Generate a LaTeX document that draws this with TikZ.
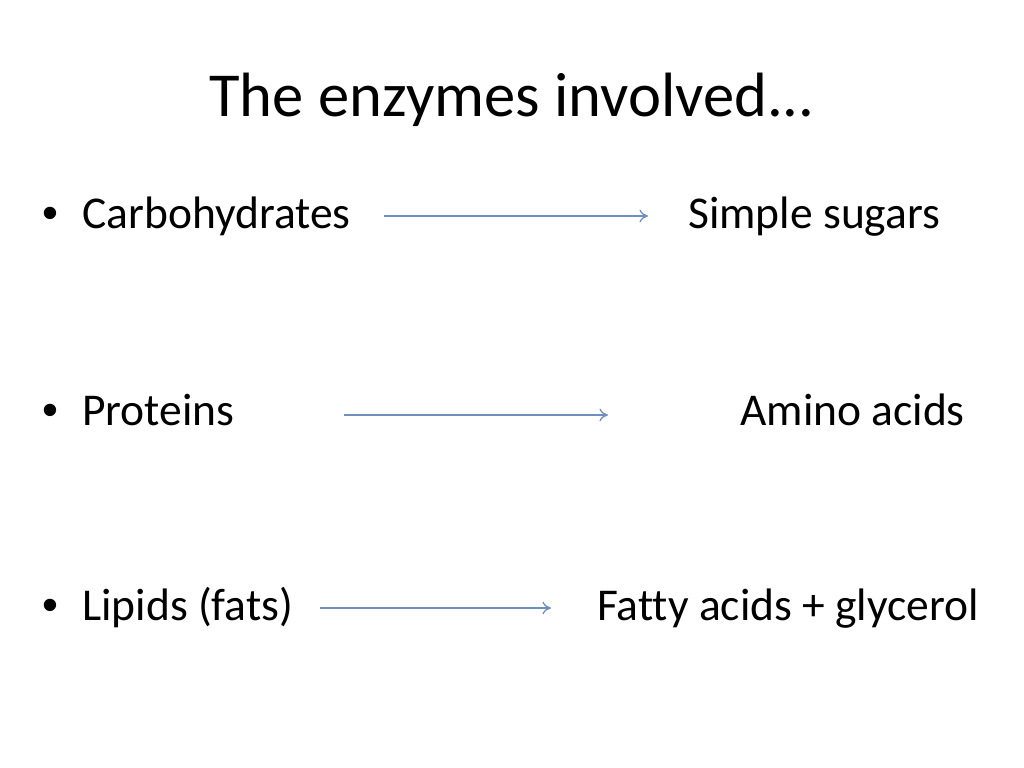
\documentclass[tikz,border=0pt]{standalone}
\usepackage{fontspec}
\setmainfont{Carlito}[Ligatures=NoCommon]
\newfontfamily\bulletfont{Liberation Sans}
\usetikzlibrary{arrows.meta}
\definecolor{arrowblue}{HTML}{6F8FBF}
\begin{document}
\begin{tikzpicture}[x=0.703125pt,y=-0.703125pt,
  title/.style={font=\fontsize{44}{52}\selectfont, inner sep=0pt, anchor=base},
  body/.style={font=\fontsize{32}{38}\selectfont, inner sep=0pt, anchor=base west},
  bul/.style={font=\bulletfont\fontsize{32}{38}\selectfont, inner sep=0pt, anchor=base west},
  conv/.style={draw=arrowblue, line width=0.9pt, -{To[length=6pt,width=9pt]}}]
\useasboundingbox (0,0) rectangle (1024,768);
\node[title] (t) at (512,117) {The enzymes involved...};
\node[bul] (b1) at (42,229) {•};
\node[body] (c) at (82,229) {Carbohydrates};
\node[body] (s) at (688,229) {Simple sugars};
\coordinate (a1s) at (384,216);
\coordinate (a1e) at (648,216);
\draw[conv] (a1s) -- (a1e);
\node[bul] (b2) at (42,425) {•};
\node[body] (p) at (82,425) {Proteins};
\node[body] (am) at (740,425) {Amino acids};
\coordinate (a2s) at (344,415);
\coordinate (a2e) at (608,415);
\draw[conv] (a2s) -- (a2e);
\node[bul] (b3) at (42,620) {•};
\node[body] (l) at (82,620) {Lipids (fats)};
\node[body] (f) at (597,620) {Fatty acids + glycerol};
\coordinate (a3s) at (320,608);
\coordinate (a3e) at (551,608);
\draw[conv] (a3s) -- (a3e);
\end{tikzpicture}
\end{document}
